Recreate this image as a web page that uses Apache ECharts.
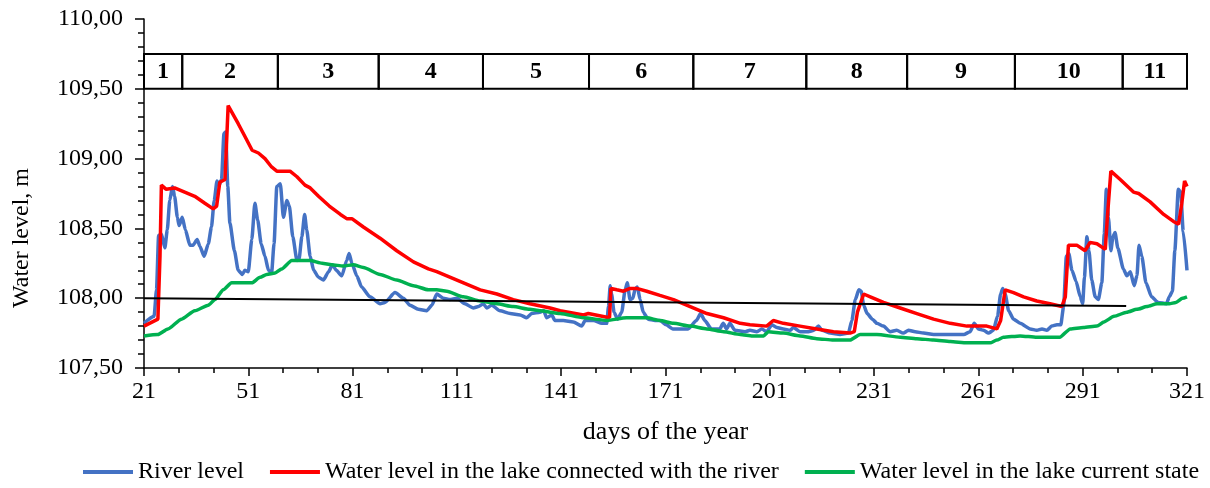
<!DOCTYPE html>
<html>
<head>
<meta charset="utf-8">
<script src="https://cdn.jsdelivr.net/npm/echarts@6/dist/echarts.min.js"></script>
<style>
html,body{margin:0;padding:0;background:#fff;}
#chart{width:1210px;height:488px;}
</style>
</head>
<body>
<div id="chart"></div>
<script>
// ---- data (day of year, water level in m) ----
const dayStart = 21;
const dayEnd = 321;
const xTickStep = 30;

const riverLevel = [
[21,107.82],[23.9,107.87],[24.6,108.06],[25.2,108.45],[26,108.46],[27,108.36],[27.7,108.49],[28.4,108.70],[29.2,108.80],[29.8,108.73],
[30.6,108.58],[31.1,108.52],[32,108.58],[32.9,108.49],[34.2,108.38],[35.1,108.38],[36.3,108.42],[37.1,108.37],[38.3,108.30],[39.5,108.39],
[40.4,108.51],[41.2,108.70],[42,108.84],[42.6,108.81],[43.3,108.85],[44,109.18],[44.5,109.19],[45.1,108.80],[45.7,108.54],[47,108.34],
[48.1,108.20],[49.3,108.17],[50,108.20],[51,108.19],[52,108.42],[52.9,108.68],[53.7,108.56],[54.7,108.39],[55.8,108.30],[56.8,108.20],
[57.7,108.18],[58.4,108.39],[59.2,108.80],[60.2,108.82],[61.1,108.58],[62.1,108.70],[62.8,108.66],[63.8,108.44],[65,108.27],[65.6,108.28],
[66.4,108.44],[67.2,108.60],[67.8,108.49],[68.8,108.30],[69.8,108.20],[71.2,108.15],[72.6,108.13],[74.1,108.19],[75.2,108.24],[76.3,108.20],
[77.9,108.16],[79.3,108.27],[80,108.32],[80.8,108.25],[82.2,108.16],[83.6,108.08],[86,108.01],[88.9,107.96],[90.3,107.97],[93.2,108.04],
[95.6,108.00],[97.5,107.95],[99.9,107.92],[102.3,107.91],[103.8,107.95],[105.2,108.03],[107.1,108.00],[109,107.99],[111,108.00],[113.3,107.96],
[115.7,107.93],[117.2,107.94],[118.6,107.96],[119.6,107.93],[121,107.95],[123.4,107.91],[126.3,107.89],[129.2,107.88],[131.1,107.86],[132.5,107.89],
[134.9,107.90],[136,107.91],[136.8,107.86],[138.3,107.88],[139.2,107.84],[141.6,107.84],[144.5,107.83],[146.9,107.80],[147.9,107.84],[150.3,107.84],
[152.7,107.82],[154.1,107.82],[154.6,107.94],[155.1,108.09],[155.5,108.03],[156.2,107.90],[157.2,107.85],[158.4,107.90],[159.4,108.06],[160,108.11],
[160.8,107.99],[161.6,108.00],[162.3,108.07],[162.9,108.08],[163.7,107.99],[164.6,107.90],[166,107.85],[168,107.84],[169.4,107.84],[171.2,107.81],
[173.1,107.78],[175,107.78],[177.5,107.78],[179.9,107.84],[181.1,107.89],[182.3,107.84],[184.2,107.78],[186.6,107.78],[187.6,107.82],[188.6,107.78],
[189.5,107.82],[191,107.77],[193.9,107.76],[195.3,107.77],[197.3,107.76],[198.7,107.78],[200.1,107.76],[201.6,107.81],[203,107.79],[204.9,107.78],
[206.8,107.77],[207.8,107.79],[209.7,107.76],[212.1,107.76],[213.7,107.77],[215,107.80],[216,107.77],[218.4,107.75],[221.2,107.74],[223.6,107.75],
[224.6,107.84],[225.6,107.99],[226.6,108.06],[227.3,108.05],[228,107.95],[229,107.89],[230.5,107.85],[231.8,107.82],[233.7,107.80],[235.6,107.76],
[237.5,107.77],[239.4,107.75],[240.9,107.77],[242.8,107.76],[245.2,107.75],[248.1,107.74],[251,107.74],[253.9,107.74],[256.8,107.74],[258.6,107.76],
[259.8,107.82],[261,107.78],[262.5,107.77],[263.9,107.75],[265.3,107.77],[266.5,107.87],[267.4,108.03],[268,108.07],[268.7,108.03],[269.7,107.91],
[271.1,107.85],[273,107.82],[275.9,107.78],[277.8,107.77],[279.3,107.78],[280.7,107.77],[282.1,107.80],[283.6,107.81],[284.7,107.81],[285.5,107.94],
[286.3,108.30],[287,108.32],[287.9,108.20],[289.1,108.12],[290.3,108.01],[291,107.96],[291.5,108.15],[292.2,108.44],[292.8,108.34],[293.6,108.13],
[294.6,108.01],[295.5,107.99],[296.5,108.11],[297.2,108.46],[297.8,108.78],[298.4,108.58],[299.1,108.34],[299.7,108.44],[300.3,108.47],[301.1,108.36],
[302.7,108.21],[303.7,108.16],[304.7,108.19],[305.8,108.09],[306.6,108.16],[307.2,108.38],[308,108.30],[309.2,108.11],[310.8,108.01],[312.7,107.97],
[315.1,107.96],[315.9,108.01],[316.8,108.05],[317.5,108.34],[318.5,108.78],[319.2,108.76],[319.9,108.48],[321,108.20]
];

const lakeConnected = [
[21,107.80],[25,107.85],[25.6,108.30],[26,108.81],[27.4,108.78],[29.8,108.79],[32.7,108.76],[35.6,108.73],[38.5,108.68],[40.9,108.64],
[41.9,108.66],[42.8,108.83],[44.3,108.85],[45.2,109.38],[48.1,109.25],[50,109.16],[52.1,109.06],[53.9,109.04],[55.8,109.00],[57.7,108.94],
[59.2,108.91],[61.1,108.91],[63,108.91],[65,108.87],[67.3,108.81],[68.8,108.79],[71.2,108.73],[74.3,108.66],[77.5,108.60],[79.3,108.57],
[80.8,108.57],[84.1,108.51],[88.9,108.43],[93.7,108.34],[98.5,108.26],[102.8,108.21],[105.2,108.19],[108.1,108.16],[112.9,108.11],[117.7,108.06],
[122.5,108.03],[127.2,107.99],[132,107.96],[137.8,107.93],[140.7,107.91],[147.4,107.88],[148.8,107.89],[154.9,107.86],[155.3,108.07],[157,108.06],
[158.9,108.05],[160.8,108.07],[162.7,108.07],[165.6,108.05],[169.4,108.02],[173.3,107.99],[178.1,107.94],[182.9,107.89],[187.7,107.86],[192.5,107.82],
[195.3,107.81],[200.1,107.80],[202,107.84],[204.9,107.82],[209.7,107.80],[214.5,107.78],[219.3,107.76],[224.1,107.75],[225.3,107.76],[226.2,107.90],
[228,108.03],[229.9,108.01],[233.7,107.97],[238.5,107.93],[243.3,107.89],[248.1,107.85],[252.9,107.82],[257.7,107.80],[263.4,107.80],[266.3,107.78],
[267.4,107.84],[268.7,108.06],[271.1,108.04],[274,108.01],[277.8,107.98],[281.6,107.96],[285,107.94],[286,108.01],[286.9,108.38],[289.3,108.38],
[291.7,108.34],[293.1,108.40],[295.1,108.39],[297.5,108.35],[298.1,108.58],[299.1,108.91],[301.8,108.85],[305.6,108.76],[307.1,108.75],[310.4,108.69],
[314.3,108.60],[317.1,108.55],[318.6,108.53],[319.5,108.68],[320.3,108.84],[321,108.80]
];

const lakeCurrent = [
[21,107.73],[25,107.74],[27.9,107.78],[31.8,107.85],[35.6,107.91],[39.5,107.95],[41.4,107.99],[43.8,108.06],[46.2,108.11],[49.1,108.11],
[52,108.11],[54.4,108.15],[56.3,108.17],[58.7,108.18],[60.6,108.21],[63.5,108.27],[66.4,108.27],[68.8,108.27],[72.2,108.25],[75,108.24],
[78.3,108.23],[81.2,108.24],[84.1,108.22],[88.9,108.17],[93.7,108.13],[98.5,108.09],[102.8,108.06],[105.2,108.06],[108.1,108.05],[112.9,108.01],
[117.7,107.98],[122.5,107.96],[127.2,107.94],[132,107.92],[134.9,107.91],[140.7,107.89],[147.4,107.86],[154.1,107.84],[159.8,107.86],[165.6,107.86],
[169.4,107.84],[173.3,107.82],[178.1,107.80],[182.9,107.78],[187.7,107.76],[192.5,107.74],[196,107.73],[199.2,107.73],[200.6,107.76],[204.9,107.75],
[209.7,107.73],[214.5,107.71],[219.3,107.70],[224.1,107.70],[227,107.74],[231.8,107.74],[238.5,107.72],[243.3,107.71],[248.1,107.70],[252.9,107.69],
[257.7,107.68],[264.4,107.68],[266.3,107.70],[268.2,107.72],[273,107.73],[277.8,107.72],[284.4,107.72],[287.4,107.78],[291.2,107.79],[295.1,107.80],
[297.1,107.83],[300,107.87],[303.7,107.90],[306.6,107.92],[309.5,107.94],[312.4,107.96],[315.9,107.96],[317.8,107.97],[319.7,108.00],[321,108.01]
];

const referenceLine = [[21,108.00],[303.5,107.945]];

// periods shown in the boxed band at the top
const periodLabels = ['1','2','3','4','5','6','7','8','9','10','11'];
const periodBounds = [21,32,59.5,88.5,118.5,149,179,211.5,240.5,271.5,302.5,322.5];
const bandLow = 109.5;
const bandHigh = 109.75;

const seriesNames = ['River level','Water level in the lake connected with the river','Water level in the lake current state'];
const seriesColors = ['#4472C4','#FF0000','#00B050'];

// ---- chart ----
const FONT = '"Liberation Serif", "Times New Roman", serif';
const shift = arr => arr.map(p => [p[0] - dayStart, p[1]]);

const periodAreas = periodLabels.map((lab, i) => [
  {name: lab, xAxis: periodBounds[i] - dayStart, yAxis: bandLow},
  {xAxis: periodBounds[i + 1] - dayStart, yAxis: bandHigh}
]);

const chart = echarts.init(document.getElementById('chart'), null, {renderer: 'canvas'});
const lineSeries = (name, data, color, smooth) => ({
  name, type: 'line', data: shift(data), showSymbol: false, symbol: 'none',
  smooth: smooth, smoothMonotone: 'x',
  lineStyle: {color, width: 3.5}, itemStyle: {color}, emphasis: {disabled: true}, silent: true
});

chart.setOption({
  animation: false,
  backgroundColor: '#fff',
  textStyle: {fontFamily: FONT, color: '#000'},
  grid: {left: 144, right: 23, top: 19, bottom: 120, containLabel: false},
  xAxis: {
    type: 'value', min: 0, max: dayEnd - dayStart, interval: xTickStep,
    axisLine: {show: true, lineStyle: {color: '#000', width: 1.5}},
    axisTick: {show: true, length: 8, lineStyle: {color: '#000', width: 1.5}},
    minorTick: {show: true, splitNumber: 3, length: 5, lineStyle: {color: '#000', width: 1.5}},
    splitLine: {show: false}, minorSplitLine: {show: false},
    axisLabel: {formatter: v => String(v + dayStart), fontFamily: FONT, fontSize: 24, color: '#000', margin: 12},
    name: 'days of the year', nameLocation: 'middle', nameGap: 51,
    nameTextStyle: {fontFamily: FONT, fontSize: 26, color: '#000'}
  },
  yAxis: {
    type: 'value', min: 107.5, max: 110, interval: 0.5,
    axisLine: {show: true, lineStyle: {color: '#000', width: 1.5}},
    axisTick: {show: true, length: 9, lineStyle: {color: '#000', width: 1.5}},
    minorTick: {show: true, splitNumber: 5, length: 6, lineStyle: {color: '#000', width: 1.5}},
    splitLine: {show: false}, minorSplitLine: {show: false},
    axisLabel: {formatter: v => v.toFixed(2).replace('.', ','), fontFamily: FONT, fontSize: 24, color: '#000', margin: 21}
  },
  legend: {
    data: seriesNames, left: 78, top: 455, itemGap: 26, itemWidth: 50, itemHeight: 4,
    icon: 'rect',
    textStyle: {fontFamily: FONT, fontSize: 24, color: '#000'}
  },
  graphic: [{
    type: 'text', x: 22, y: 238, rotation: Math.PI / 2,
    style: {text: 'Water level, m', font: '24px ' + FONT, fill: '#000', align: 'center', verticalAlign: 'middle'}
  }],
  series: [
    lineSeries(seriesNames[0], riverLevel, seriesColors[0], 0.2),
    lineSeries(seriesNames[1], lakeConnected, seriesColors[1], false),
    lineSeries(seriesNames[2], lakeCurrent, seriesColors[2], 0.2),
    {
      name: 'reference', type: 'line', data: shift(referenceLine), symbol: 'none', clip: false,
      lineStyle: {color: '#000', width: 2}, silent: true, emphasis: {disabled: true},
      markArea: {
        silent: true,
        itemStyle: {color: 'rgba(0,0,0,0)', borderColor: '#000', borderWidth: 2},
        label: {show: true, position: 'inside', fontFamily: FONT, fontSize: 24, fontWeight: 'bold', color: '#000'},
        emphasis: {disabled: true},
        data: periodAreas
      }
    }
  ]
});
</script>
</body>
</html>
